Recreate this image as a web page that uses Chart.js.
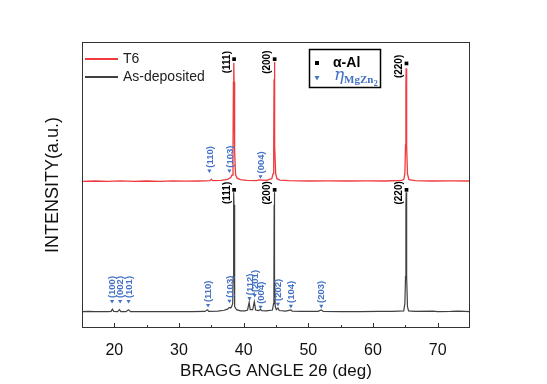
<!DOCTYPE html>
<html lang="en">
<head>
<meta charset="UTF-8">
<title>XRD - T6 vs As-deposited</title>
<script src="https://cdn.jsdelivr.net/npm/chart.js"></script>
<style>
    html, body { margin: 0; padding: 0; background: #fff; }
    .chart-container { width: 547px; height: 384px; }
</style>
</head>
<body>
<div class="chart-container"><canvas id="xrdChart"></canvas></div>
<script>
// patterns: 2θ (deg) and intensity (a.u., 0-100 on the plot)
const asDepAngle = [15, 16, 17, 18, 19, 19.5, 19.7, 19.9, 20.5, 20.8, 21.0, 21.8, 22.2, 22.5, 24, 26, 28, 30, 32, 34,
    34.4, 34.6, 36, 37, 37.5, 37.8, 38.0, 38.1, 38.3, 38.38, 38.43, 38.47, 38.51, 38.56, 38.65, 38.9, 39.5,
    40.2, 40.6, 40.85, 41.0, 41.4, 41.65, 41.85, 42.3, 42.6, 42.8, 43.5, 44.45, 44.62, 44.68, 44.71, 44.74,
    44.77, 44.8, 44.88, 45.05, 45.3, 45.5, 46.5, 47.3, 47.5, 49, 51.5, 52.0, 52.3, 55, 58, 61, 63, 64.75,
    64.93, 65.03, 65.09, 65.13, 65.17, 65.23, 65.33, 65.5, 66.5, 69.3, 70, 72, 73.3, 75];
const asDepInt = [5.7, 5.8, 5.7, 5.75, 5.7, 5.8, 6.6, 5.8, 5.7, 6.4, 5.75, 5.7, 6.4, 5.7, 5.75, 5.7, 5.75, 5.7, 5.75, 5.8,
    6.4, 5.8, 5.9, 6.2, 6.6, 7.2, 7.0, 7.3, 8.5, 18, 43, 47.5, 43, 18, 7.5, 6.4, 6.0,
    6.0, 6.3, 9.0, 6.4, 6.4, 9.2, 6.3, 6.1, 6.5, 6.1, 6.0, 6.3, 8.5, 18, 43, 47.5,
    43, 18, 7.5, 6.4, 7.0, 6.1, 5.9, 6.3, 5.85, 5.8, 5.8, 6.3, 5.8, 5.75, 5.75, 5.8, 5.8, 6.0,
    8.5, 18, 43, 47.5, 43, 18, 7.5, 6.0, 5.8, 5.9, 5.75, 5.8, 5.9, 5.75];

const t6Angle = [15, 17, 19, 21, 23, 25, 27, 29, 31, 33, 34.8, 35.0, 35.2, 36.5, 37.5, 38.0, 38.2, 38.35, 38.42,
    38.47, 38.52, 38.6, 38.75, 39.0, 39.5, 40.5, 42, 42.4, 43.5, 44.35, 44.55, 44.65, 44.7, 44.74, 44.78, 44.84,
    44.95, 45.15, 45.6, 47, 50, 53, 56, 59, 62, 64.4, 64.75, 64.93, 65.03, 65.09, 65.13, 65.17, 65.23, 65.33,
    65.55, 66.5, 69, 72, 75];
const t6Int = [51.3, 51.4, 51.3, 51.45, 51.3, 51.4, 51.3, 51.45, 51.35, 51.4, 51.5, 52.0, 51.5, 51.6, 52.0, 52.6, 53.5, 62, 86,
    92.7, 86, 62, 53.5, 52.4, 51.9, 51.6, 51.5, 51.8, 51.6, 52.2, 54, 64, 87, 93, 87, 64,
    54, 52.2, 51.7, 51.5, 51.4, 51.45, 51.4, 51.45, 51.4, 51.6, 51.9, 54, 64, 85, 90.8, 85, 64, 54,
    51.9, 51.5, 51.4, 51.45, 51.4];

const xTicks = [20, 30, 40, 50, 60, 70];
const xMinorTicks = [25, 35, 45, 55, 65];

// α-Al reflections
const alAngle = [38.52, 44.79, 65.18];
const alLabel = ['(111)', '(200)', '(220)'];
const alMarkT6 = [94, 94, 92.5];
const alMarkAsDep = [48.3, 48.3, 48.3];

// η-MgZn2 reflections
const etaT6Angle = [34.7, 37.8, 42.6];
const etaT6Label = ['(110)', '(103)', '(004)'];
const etaT6Mark = [55, 55, 53];

const etaAsDepAngle = [19.65, 20.9, 22.2, 34.5, 37.8, 40.9, 41.7, 42.6, 45.3, 47.3, 52.0];
const etaAsDepLabel = ['(100)', '(002)', '(101)', '(110)', '(103)', '(112)', '(201)', '(004)', '(202)', '(104)', '(203)'];
const etaAsDepMark = [9.4, 9.4, 9.4, 8.0, 9.5, 10.4, 11.5, 7.4, 8.4, 7.7, 7.7];

const RED = '#ef3a3f';
const GREY = '#404040';
const BLUE = '#4472c4';

const toPts = (xs, ys) => xs.map((x, i) => ({ x: x, y: ys[i] }));

// frame, inward ticks, peak labels, legends and y title
const decor = {
    id: 'decor',
    afterDraw(chart) {
        const ctx = chart.ctx;
        const a = chart.chartArea;
        const xs = chart.scales.x, ys = chart.scales.y;
        ctx.save();

        ctx.strokeStyle = '#333';
        ctx.lineWidth = 1;
        ctx.strokeRect(a.left + 0.5, a.top + 0.5, a.right - a.left - 1, a.bottom - a.top - 1);
        ctx.beginPath();
        xTicks.forEach(v => {
            const p = Math.round(xs.getPixelForValue(v)) + 0.5;
            ctx.moveTo(p, a.bottom); ctx.lineTo(p, a.bottom - 5);
        });
        xMinorTicks.forEach(v => {
            const p = Math.round(xs.getPixelForValue(v)) + 0.5;
            ctx.moveTo(p, a.bottom); ctx.lineTo(p, a.bottom - 3);
        });
        ctx.stroke();

        const vtext = (txt, x, y, align) => {
            ctx.save();
            ctx.translate(x, y);
            ctx.rotate(-Math.PI / 2);
            ctx.textAlign = align;
            ctx.textBaseline = 'middle';
            ctx.fillText(txt, 0, 0);
            ctx.restore();
        };

        ctx.fillStyle = '#000';
        ctx.font = 'bold 10px Arial';
        [alMarkT6, alMarkAsDep].forEach(marks => {
            alAngle.forEach((v, i) => {
                vtext(alLabel[i], xs.getPixelForValue(v) - 7, ys.getPixelForValue(marks[i]) + 3, 'center');
            });
        });

        ctx.fillStyle = BLUE;
        ctx.font = 'bold 9.5px Arial';
        etaT6Angle.forEach((v, i) => {
            vtext(etaT6Label[i], xs.getPixelForValue(v) + 0.5, ys.getPixelForValue(etaT6Mark[i]) - 3, 'left');
        });
        etaAsDepAngle.forEach((v, i) => {
            vtext(etaAsDepLabel[i], xs.getPixelForValue(v) + 0.5, ys.getPixelForValue(etaAsDepMark[i]) - 3, 'left');
        });

        // series legend
        const ds = chart.data.datasets;
        ctx.font = '14px Arial';
        ctx.textAlign = 'left';
        ctx.textBaseline = 'middle';
        [[ds[0], 59], [ds[1], 77]].forEach(([d, y]) => {
            ctx.strokeStyle = d.borderColor;
            ctx.lineWidth = 2;
            ctx.beginPath();
            ctx.moveTo(a.left + 3, y); ctx.lineTo(a.left + 36, y);
            ctx.stroke();
            ctx.fillStyle = '#222';
            ctx.fillText(d.label, a.left + 41, y);
        });

        // phase legend
        ctx.strokeStyle = '#000';
        ctx.lineWidth = 1.5;
        ctx.strokeRect(309.5, 49.5, 71, 38);
        ctx.fillStyle = '#000';
        ctx.fillRect(315, 61, 4, 4);
        ctx.font = 'bold 14px Arial';
        ctx.fillText('α-Al', 333, 63.5);
        ctx.fillStyle = BLUE;
        ctx.beginPath();
        ctx.moveTo(314.5, 76); ctx.lineTo(319.5, 76); ctx.lineTo(317, 80.5);
        ctx.closePath();
        ctx.fill();
        ctx.textBaseline = 'alphabetic';
        ctx.font = 'italic 17px "DejaVu Serif", serif';
        ctx.fillText('η', 334, 80);
        ctx.font = 'bold 11px "Liberation Serif", serif';
        const sub = 'MgZn';
        ctx.fillText(sub, 344, 83);
        const subW = ctx.measureText(sub).width;
        ctx.font = 'bold 8px "Liberation Serif", serif';
        ctx.fillText('2', 344 + subW + 0.5, 85.5);

        // y axis title
        ctx.fillStyle = '#111';
        ctx.font = '18px Arial';
        ctx.textBaseline = 'middle';
        vtext('INTENSITY(a.u.)', 53, (a.top + a.bottom) / 2, 'center');

        ctx.restore();
    }
};

new Chart(document.getElementById('xrdChart').getContext('2d'), {
    type: 'scatter',
    data: {
        datasets: [{
            label: 'T6',
            data: toPts(t6Angle, t6Int),
            showLine: true,
            borderColor: RED,
            borderWidth: 1.3,
            pointRadius: 0
        }, {
            label: 'As-deposited',
            data: toPts(asDepAngle, asDepInt),
            showLine: true,
            borderColor: GREY,
            borderWidth: 1.2,
            pointRadius: 0
        }, {
            label: 'α-Al',
            data: toPts(alAngle.concat(alAngle), alMarkT6.concat(alMarkAsDep)),
            pointStyle: 'rect',
            pointRadius: 2.6,
            borderWidth: 0,
            backgroundColor: '#000'
        }, {
            label: 'η',
            data: toPts(etaT6Angle.concat(etaAsDepAngle), etaT6Mark.concat(etaAsDepMark)),
            pointStyle: 'triangle',
            rotation: 180,
            pointRadius: 2.4,
            borderWidth: 0,
            backgroundColor: BLUE
        }]
    },
    options: {
        responsive: true,
        maintainAspectRatio: false,
        animation: false,
        layout: { padding: { left: 82, right: 77, top: 42, bottom: 0 } },
        plugins: { legend: { display: false }, tooltip: { enabled: false } },
        scales: {
            x: {
                type: 'linear',
                min: 15,
                max: 75,
                afterBuildTicks: s => { s.ticks = xTicks.map(v => ({ value: v })); },
                afterFit: s => { s.height = 56; },
                grid: { display: false },
                border: { display: false },
                ticks: { font: { family: 'Arial', size: 16 }, color: '#111', padding: 5, maxRotation: 0 },
                title: {
                    display: true,
                    text: 'BRAGG ANGLE 2θ (deg)',
                    font: { family: 'Arial', size: 17 },
                    color: '#111',
                    padding: { top: 0, bottom: 2 }
                }
            },
            y: { display: false, min: 0, max: 100 }
        }
    },
    plugins: [decor]
});
</script>
</body>
</html>
